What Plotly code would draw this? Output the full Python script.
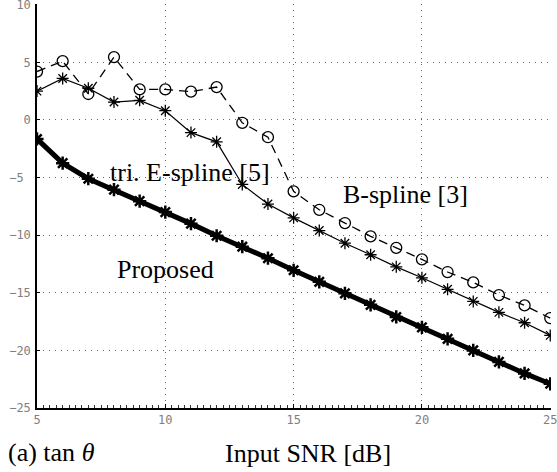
import plotly.graph_objects as go

snr = list(range(5, 26))
proposed = [-1.65, -3.75, -5.1, -6.05, -7.05, -8.0, -9.0, -10.05, -11.0, -12.0, -13.05,
            -14.05, -15.05, -16.05, -17.1, -18.0, -19.0, -20.0, -21.0, -22.0, -22.9]
tri_espline = [2.5, 3.6, 2.75, 1.55, 1.7, 0.8, -1.1, -1.9, -5.6, -7.3, -8.5,
               -9.6, -10.7, -11.7, -12.75, -13.7, -14.7, -15.75, -16.7, -17.6, -18.7]
bspline = [4.2, 5.1, 2.25, 5.45, 2.65, 2.65, 2.45, 2.85, -0.25, -1.5, -6.2,
           -7.8, -8.95, -10.1, -11.1, -12.1, -13.2, -14.1, -15.2, -16.1, -17.2]

xticks = [5, 10, 15, 20, 25]
yticks = [-25, -20, -15, -10, -5, 0, 5, 10]
ytick_labels = ["\u221225", "\u221220", "\u221215", "\u221210", "\u22125\u00a0", "0", "5", "10"]

fig = go.Figure()
fig.add_trace(go.Scatter(
    x=snr, y=bspline, mode="lines+markers",
    line=dict(color="black", width=1.3, dash="9px,6px"),
    marker=dict(symbol="circle-open", size=11, color="black", line=dict(width=1.3)),
))
fig.add_trace(go.Scatter(
    x=snr, y=tri_espline, mode="lines+markers",
    line=dict(color="black", width=1.2),
    marker=dict(symbol="asterisk-open", size=10, color="black", line=dict(width=1.3)),
))
fig.add_trace(go.Scatter(
    x=snr, y=proposed, mode="lines+markers",
    line=dict(color="black", width=5),
    marker=dict(symbol="asterisk-open", size=11, color="black", line=dict(width=2.5)),
))

serif = "Liberation Serif, Times New Roman, serif"
tick_font = dict(family="DejaVu Sans Mono, monospace", size=12, color="#808080")

annotations = [
    dict(x=10.95, y=-4.55, xref="x", yref="y", text="tri. E-spline [5]", showarrow=False,
         font=dict(family=serif, size=26, color="black")),
    dict(x=10.0, y=-13.0, xref="x", yref="y", text="Proposed", showarrow=False,
         font=dict(family=serif, size=26, color="black")),
    dict(x=19.36, y=-6.45, xref="x", yref="y", text="B-spline [3]", showarrow=False,
         font=dict(family=serif, size=26, color="black")),
    dict(x=(308 - 37) / 514, y=(408 - 453) / 404, xref="paper", yref="paper",
         text="Input SNR [dB]", showarrow=False, xanchor="center", yanchor="middle",
         font=dict(family=serif, size=26, color="black")),
    dict(x=(6 - 37) / 514, y=(408 - 452) / 404, xref="paper", yref="paper",
         text="(a) tan <i>\u03b8</i>", showarrow=False, xanchor="left", yanchor="middle",
         font=dict(family=serif, size=26, color="black")),
]

fig.update_layout(
    width=557, height=472,
    margin=dict(l=37, r=6, t=4, b=64),
    paper_bgcolor="white", plot_bgcolor="white",
    showlegend=False,
    annotations=annotations,
    xaxis=dict(range=[5, 25.03], tickvals=xticks, ticks="inside", ticklen=4, tickcolor="black",
               showline=True, linecolor="black", linewidth=1.5,
               showgrid=True, gridcolor="#666666", gridwidth=1, griddash="1px,5px",
               zeroline=False, tickfont=tick_font, automargin=False, ticklabeloverflow="allow",
               minor=dict(dtick=0.25, ticks="inside", ticklen=3, tickcolor="#333333", showgrid=False)),
    yaxis=dict(range=[-25, 10.06], tickvals=yticks, ticktext=ytick_labels, ticks="inside", ticklen=3,
               tickcolor="black", showline=True, linecolor="black", linewidth=1.5,
               showgrid=True, gridcolor="#666666", gridwidth=1, griddash="1px,5px",
               zeroline=False, tickfont=tick_font, ticklabelstandoff=2, automargin=False,
               ticklabeloverflow="allow"),
)

fig.write_html("out.html", config={"displayModeBar": False},
               post_script="document.body.style.margin='0';document.body.style.overflow='hidden';")
